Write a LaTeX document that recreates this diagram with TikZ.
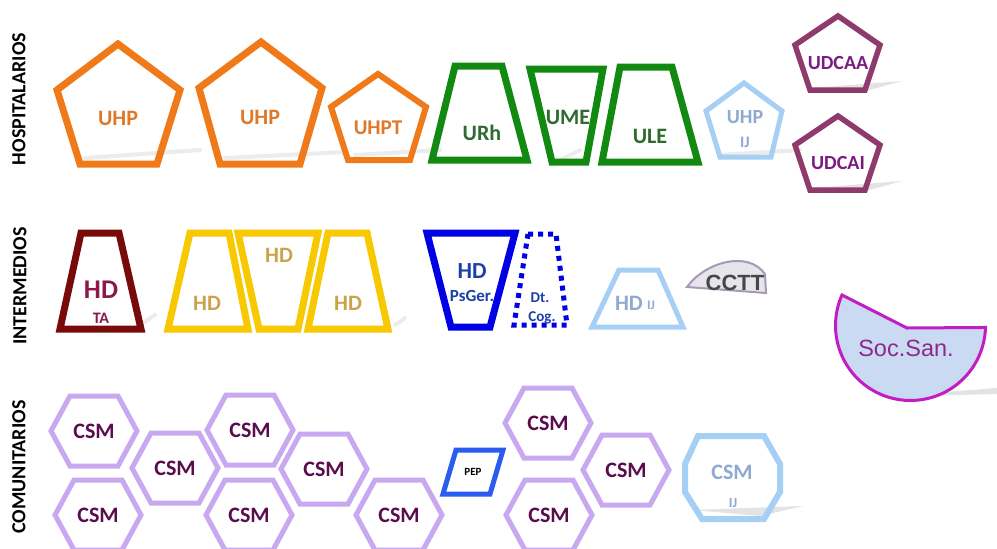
\documentclass[tikz,border=0pt]{standalone}
\usepackage{fontspec}
\setmainfont{Carlito}
\newfontfamily\arialf{Liberation Sans}
\begin{document}
\begin{tikzpicture}[x=1pt,y=-1pt,line join=miter,
  lbl/.style={font=\bfseries\fontsize{#1}{#1}\selectfont,inner sep=0pt},
  lbl/.default=22,
  sect/.style={font=\bfseries\fontsize{20}{20}\selectfont,rotate=90,inner sep=0pt},
  orangeS/.style={draw=cOrange,line width=7pt},
  greenS/.style={draw=cGreen,line width=7pt},
  yellowS/.style={draw=cYellow,line width=7pt},
  ltblueS/.style={draw=cLtBlue,line width=5pt},
  purpS/.style={draw=cPurp,line width=5.5pt},
  hexS/.style={draw=cHex,line width=5pt},
  shad/.style={fill=black!18,draw=none,opacity=0.6},
  shadl/.style={draw=black!12,line width=4pt,opacity=0.6,line cap=round}
]
\definecolor{cOrange}{HTML}{F07A1A}
\definecolor{tOrange}{HTML}{E0782A}
\definecolor{cGreen}{HTML}{128A12}
\definecolor{tGreen}{HTML}{2F6A2F}
\definecolor{cYellow}{HTML}{F8C800}
\definecolor{tYellow}{HTML}{C9A24A}
\definecolor{cLtBlue}{HTML}{A6CFF6}
\definecolor{tLtBlue}{HTML}{8EA9D2}
\definecolor{cPurp}{HTML}{8E3A6C}
\definecolor{tPurp}{HTML}{7C1A82}
\definecolor{cMaroon}{HTML}{780A0A}
\definecolor{tMaroon}{HTML}{8A1A4C}
\definecolor{cBlue}{HTML}{0000E4}
\definecolor{tBlue}{HTML}{1C40A6}
\definecolor{cHex}{HTML}{C8A8F0}
\definecolor{tHex}{HTML}{5A0C4C}
\definecolor{cPep}{HTML}{2A5CF0}
\definecolor{cSocF}{HTML}{CADAF2}
\definecolor{cSocD}{HTML}{C21CC4}
\definecolor{tSoc}{HTML}{8C2A8C}
\definecolor{cCctF}{HTML}{E6E6EA}
\definecolor{cCctD}{HTML}{A898B8}

\clip (0,0) rectangle (997,549);
\fill[white] (0,0) rectangle (997,549);

% section labels
\node[sect] (hosp) at (19,99) {HOSPITALARIOS};
\node[sect] (inter) at (20,286) {INTERMEDIOS};
\node[sect] (comu) at (19,467) {COMUNITARIOS};

% ---------- shadows ----------
\draw[shadl] (85,158) -- (200,150);
\draw[shadl] (225,158) -- (345,152);
\draw[shadl] (355,155) -- (440,150);
\fill[shad] (812,88) -- (902,81) -- (866,91) -- cycle;
\fill[shad] (812,188) -- (902,181) -- (866,191) -- cycle;
\draw[shadl] (720,155) -- (800,150);
\fill[shad] (693,510) -- (803,506) -- (760,516) -- cycle;
\fill[shad] (880,397) -- (997,388) -- (997,394) -- cycle;
\draw[shadl] (560,160) -- (580,150);
\draw[shadl] (140,325) -- (155,315);
\draw[shadl] (395,325) -- (405,318);

% ---------- HOSPITALARIOS ----------
\draw[orangeS] (118,44) -- (180,90) -- (157,164) -- (80,164) -- (57,90) -- cycle;
\node[lbl,text=tOrange] (uhp1) at (118,118) {UHP};
\draw[orangeS] (261,42) -- (322,88) -- (300,164) -- (220,164) -- (199,88) -- cycle;
\node[lbl,text=tOrange] (uhp2) at (260,117) {UHP};
\draw[orangeS,line width=6pt] (378,74) -- (426,107) -- (410,160) -- (348,160) -- (331,107) -- cycle;
\node[lbl=21,text=tOrange] (uhpt) at (378,128) {UHPT};

\draw[greenS] (455,66) -- (502,66) -- (527,160) -- (432,160) -- cycle;
\node[lbl,text=tGreen] (urh) at (482,133) {URh};
\draw[greenS] (530,69) -- (603,69) -- (586,162) -- (552,162) -- cycle;
\node[lbl,text=tGreen] (ume) at (568,117) {UME};
\draw[greenS] (620,67) -- (672,67) -- (698,162) -- (602,162) -- cycle;
\node[lbl,text=tGreen] (ule) at (650,136) {ULE};

\draw[ltblueS] (744,83) -- (782,111) -- (771,157) -- (720,157) -- (706,111) -- cycle;
\node[lbl=20,text=tLtBlue] (uhpij) at (745,117) {UHP};
\node[lbl=16,text=tLtBlue] (uhpij2) at (745,142) {IJ};

\draw[purpS] (838,16) -- (880,45) -- (865,90) -- (810,90) -- (795,45) -- cycle;
\node[lbl=20,text=tPurp] (udcaa) at (838,63) {UDCAA};
\draw[purpS] (838,116) -- (880,145) -- (865,190) -- (810,190) -- (795,145) -- cycle;
\node[lbl=20,text=tPurp] (udcai) at (838,163) {UDCAI};

% ---------- INTERMEDIOS ----------
\draw[draw=cMaroon,line width=7pt] (81,233) -- (119,233) -- (141,329) -- (60,329) -- cycle;
\node[lbl=27,text=tMaroon] (hdta) at (101,290) {HD};
\node[lbl=16,text=tMaroon] (ta) at (101,318) {TA};

\draw[yellowS] (190,233) -- (229,233) -- (248,329) -- (168,329) -- cycle;
\draw[yellowS] (328,233) -- (367,233) -- (388,329) -- (308,329) -- cycle;
\draw[white,line width=9pt] (238,233) -- (318,233) -- (298,329) -- (259,329) -- cycle;
\draw[yellowS] (238,233) -- (318,233) -- (298,329) -- (259,329) -- cycle;
\node[lbl,text=tYellow] (hd1) at (207,303) {HD};
\node[lbl,text=tYellow] (hd2) at (279,255) {HD};
\node[lbl,text=tYellow] (hd3) at (348,303) {HD};

\draw[draw=cBlue,line width=7pt] (427,233) -- (515,233) -- (490,327) -- (451,327) -- cycle;
\node[lbl=23,text=tBlue] (hdps) at (472,271) {HD};
\node[lbl=17,text=tBlue] (psger) at (472,296) {PsGer.};

\draw[draw=cBlue,line width=5pt,dash pattern=on 5pt off 5pt] (528,234) -- (556,234) -- (567,325) -- (514,325) -- cycle;
\node[lbl=15,text=tBlue] (dt) at (540,298) {Dt.};
\node[lbl=15,text=tBlue] (cog) at (542,318) {Cog.};

\draw[ltblueS] (619,270) -- (658,270) -- (683,327) -- (592,327) -- cycle;
\node[lbl=22,text=tLtBlue,anchor=east] (hdij) at (643,303) {HD};
\node[lbl=13,text=tLtBlue,anchor=west] (hdij2) at (647,305) {IJ};

\draw[fill=cCctF,draw=cCctD,line width=2pt] (687,287) .. controls (705,262) and (748,250) .. (765,274) -- (766,293) -- cycle;
\node[font=\arialf\bfseries\fontsize{22}{22}\selectfont,inner sep=0pt,text=black!72] (cctt) at (735,283) {CCTT};

\draw[fill=cSocF,draw=cSocD,line width=3pt] (842,295) arc[start angle=204,end angle=1.5,radius=75] -- (907,328) -- cycle;
\node[font=\arialf\fontsize{23.5}{23.5}\selectfont,text=tSoc,inner sep=0pt] (socsan) at (906,348) {Soc.San.};

% ---------- COMUNITARIOS ----------
\newcommand{\hexat}[3]{%
  \begin{scope}[shift={(#1,#2)}]
  \draw[hexS,fill=white] (-43,0) -- (-24,-35) -- (24,-35) -- (43,0) -- (24,35) -- (-24,35) -- cycle;
  \end{scope}
  \node[lbl,text=tHex] (#3) at (#1,#2) {CSM};}
\hexat{94}{431}{csma}
\hexat{98}{515}{csmb}
\hexat{250}{430}{csmc}
\hexat{249}{515}{csmd}
\hexat{175}{468}{csme}
\hexat{324}{469}{csmf}
\hexat{399}{515}{csmg}
\hexat{548}{423}{csmh}
\hexat{549}{515}{csmi}
\hexat{626}{470}{csmj}

\draw[draw=cPep,line width=5pt] (456,450) -- (503,450) -- (490,494) -- (443,494) -- cycle;
\node[lbl=11,text=black] (pep) at (473,472) {PEP};

\draw[draw=cLtBlue,line width=6pt] (698,436) -- (764,436) -- (780,464) -- (780,492) -- (764,519) -- (702,519) -- (685,492) -- (685,464) -- cycle;
\node[lbl,text=tLtBlue] (csmij) at (732,472) {CSM};
\node[lbl=14,text=tLtBlue] (csmij2) at (733,503) {IJ};
\end{tikzpicture}
\end{document}
